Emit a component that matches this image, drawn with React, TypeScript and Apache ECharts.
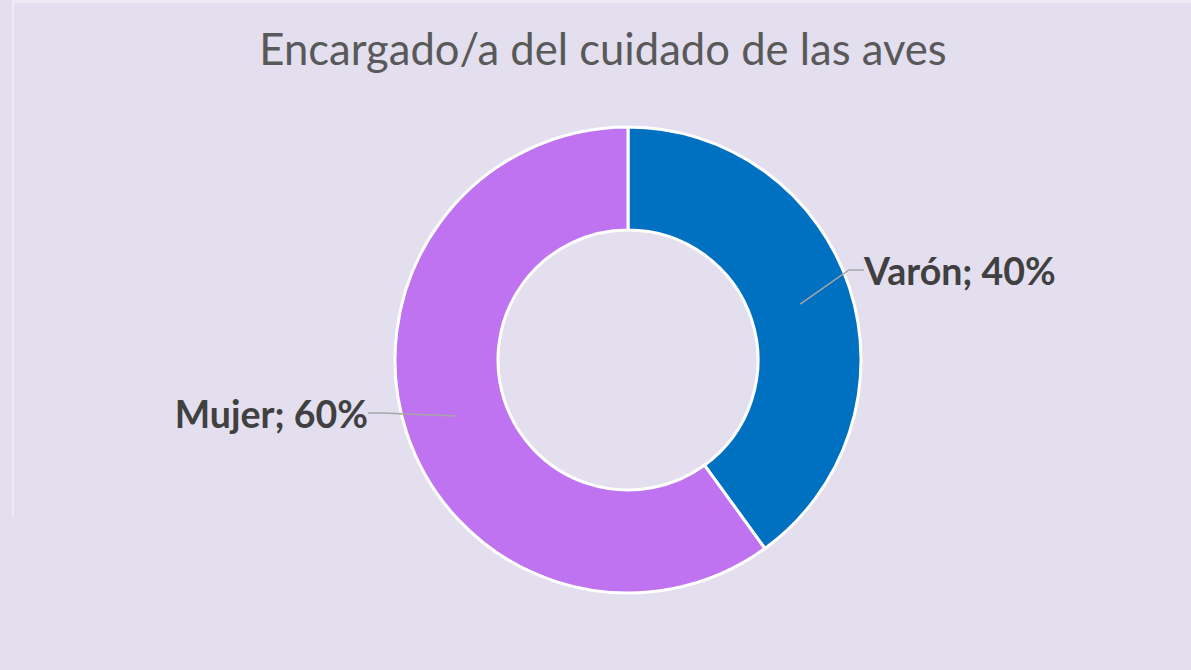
import React, { useEffect, useRef } from "react";
import * as echarts from "echarts";

const categories = ["Varón", "Mujer"];
const values = [40, 60];
const colors = ["#0070C0", "#BF73F0"];
const titleText = "Encargado/a del cuidado de las aves";

export default function App() {
  const ref = useRef<HTMLDivElement>(null);
  useEffect(() => {
    document.body.style.margin = "0";
    const chart = echarts.init(ref.current!, null, { renderer: "svg" });
    const data = categories.map((c, i) => ({
      name: c,
      value: values[i],
      itemStyle: { color: colors[i] },
    }));
    const labelPos: Record<string, { x: number; y: number; align: string }> = {
      "Varón": { x: 864, y: 270, align: "left" },
      "Mujer": { x: 368, y: 413, align: "right" },
    };
    chart.setOption({
      animation: false,
      backgroundColor: "#E3DFEF",
      title: {
        text: titleText,
        left: 598,
        top: 21,
        textAlign: "center",
        textStyle: {
          fontFamily: "Lato",
          fontWeight: "normal",
          fontSize: 43.6,
          color: "#595959",
        },
      },
      graphic: [
        { type: "line", shape: { x1: 13, y1: 1.5, x2: 1191, y2: 1.5 }, style: { stroke: "#EDEAF4", lineWidth: 3 } },
        { type: "line", shape: { x1: 13, y1: 0, x2: 13, y2: 517 }, style: { stroke: "#EDEAF4", lineWidth: 2 } },
      ],
      series: [
        {
          type: "pie",
          center: [628, 360],
          radius: [130, 233],
          startAngle: 90,
          clockwise: true,
          silent: true,
          label: { show: false },
          labelLine: { show: false },
          itemStyle: { borderColor: "#ffffff", borderWidth: 3 },
          data,
        },
        {
          type: "pie",
          center: [628, 360],
          radius: [0, 181],
          startAngle: 90,
          clockwise: true,
          silent: true,
          z: 5,
          itemStyle: { color: "rgba(0,0,0,0)", borderWidth: 0 },
          label: {
            show: true,
            position: "outside",
            formatter: "{b}; {c}%",
            fontFamily: "Lato",
            fontWeight: "bold",
            fontSize: 37.5,
            color: "#404040",
          },
          labelLine: {
            show: true,
            length: 40,
            length2: 15,
            lineStyle: { color: "#A6A6A6", width: 1.5 },
          },
          labelLayout: (params: any) => {
            const p = labelPos[categories[params.dataIndex]];
            return { x: p.x, y: p.y, align: p.align, verticalAlign: "middle" };
          },
          data: categories.map((c, i) => ({ name: c, value: values[i] })),
        },
      ],
    });
    return () => chart.dispose();
  }, []);
  return (
    <div
      ref={ref}
      style={{ position: "absolute", left: 0, top: 0, width: 1191, height: 670 }}
    />
  );
}
